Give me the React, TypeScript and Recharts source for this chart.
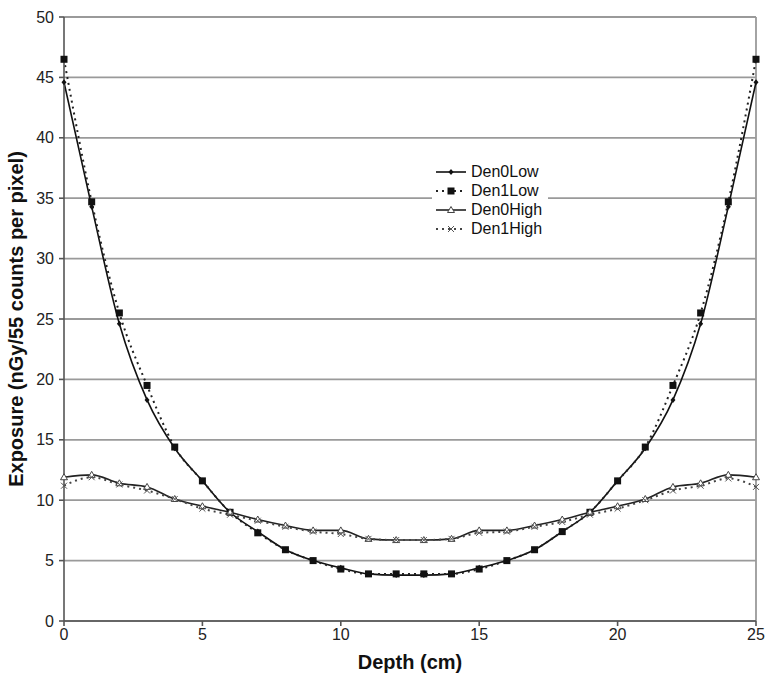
import {
  LineChart,
  Line,
  XAxis,
  YAxis,
  CartesianGrid,
  ReferenceLine,
} from "recharts";

const depths = [
  0, 1, 2, 3, 4, 5, 6, 7, 8, 9, 10, 11, 12, 13, 14, 15, 16, 17, 18, 19, 20, 21,
  22, 23, 24, 25,
];
const den0Low = [
  44.6, 34.3, 24.6, 18.3, 14.3, 11.6, 9.0, 7.4, 5.9, 5.0, 4.4, 3.9, 3.8, 3.8,
  3.9, 4.4, 5.0, 5.9, 7.4, 9.0, 11.6, 14.3, 18.3, 24.6, 34.3, 44.6,
];
const den1Low = [
  46.5, 34.7, 25.5, 19.5, 14.4, 11.6, 9.0, 7.3, 5.9, 5.0, 4.3, 3.9, 3.9, 3.9,
  3.9, 4.3, 5.0, 5.9, 7.4, 9.0, 11.6, 14.4, 19.5, 25.5, 34.7, 46.5,
];
const den0High = [
  11.9, 12.1, 11.4, 11.1, 10.1, 9.5, 9.0, 8.4, 7.9, 7.5, 7.5, 6.8, 6.7, 6.7,
  6.8, 7.5, 7.5, 7.9, 8.4, 9.0, 9.5, 10.1, 11.1, 11.4, 12.1, 11.9,
];
const den1High = [
  11.2, 11.9, 11.3, 10.8, 10.1, 9.3, 8.8, 8.3, 7.8, 7.4, 7.2, 6.8, 6.7, 6.7,
  6.8, 7.3, 7.4, 7.8, 8.2, 8.8, 9.3, 10.0, 10.8, 11.2, 11.8, 11.1,
];
const xTicks = [0, 5, 10, 15, 20, 25];
const yTicks = [0, 5, 10, 15, 20, 25, 30, 35, 40, 45, 50];

const data = depths.map((d, i) => ({
  depth: d,
  den0Low: den0Low[i],
  den1Low: den1Low[i],
  den0High: den0High[i],
  den1High: den1High[i],
}));

const FONT = "Liberation Sans, Arial, sans-serif";

type MarkKind = "diamond" | "square" | "triangle" | "cross";

function Mark({ kind, cx, cy }: { kind: MarkKind; cx: number; cy: number }) {
  if (cx == null || cy == null) return null;
  switch (kind) {
    case "diamond":
      return (
        <path
          d={`M${cx},${cy - 3}L${cx + 2.5},${cy}L${cx},${cy + 3}L${cx - 2.5},${cy}Z`}
          fill="#111"
        />
      );
    case "square":
      return <rect x={cx - 3.5} y={cy - 3.5} width={7} height={7} fill="#111" />;
    case "triangle":
      return (
        <path
          d={`M${cx},${cy - 3.5}L${cx + 3.5},${cy + 2.5}L${cx - 3.5},${cy + 2.5}Z`}
          fill="#fff"
          stroke="#444"
          strokeWidth={1}
        />
      );
    default:
      return (
        <path
          d={`M${cx - 3},${cy - 3}L${cx + 3},${cy + 3}M${cx + 3},${cy - 3}L${cx - 3},${cy + 3}`}
          stroke="#555"
          strokeWidth={1}
        />
      );
  }
}

const series: {
  key: string;
  label: string;
  kind: MarkKind;
  dash?: string;
  color: string;
}[] = [
  { key: "den0Low", label: "Den0Low", kind: "diamond", color: "#111" },
  { key: "den1Low", label: "Den1Low", kind: "square", dash: "2 4", color: "#222" },
  { key: "den0High", label: "Den0High", kind: "triangle", color: "#222" },
  { key: "den1High", label: "Den1High", kind: "cross", dash: "2 4", color: "#444" },
];

// legend sits over the plot, white box hiding the gridline behind it
function LegendBox() {
  return (
    <div
      style={{
        position: "absolute",
        left: 432,
        top: 160,
        background: "#fff",
        padding: "2px 6px 2px 2px",
        fontFamily: FONT,
        fontSize: 16,
        lineHeight: "19px",
        color: "#111",
      }}
    >
      {series.map((s) => (
        <div key={s.key} style={{ display: "flex", alignItems: "center" }}>
          <svg width={34} height={14}>
            <line
              x1={2}
              y1={7}
              x2={32}
              y2={7}
              stroke={s.color}
              strokeWidth={s.dash ? 2 : 1.6}
              strokeDasharray={s.dash}
            />
            <Mark kind={s.kind} cx={17} cy={7} />
          </svg>
          <span style={{ marginLeft: 3 }}>{s.label}</span>
        </div>
      ))}
    </div>
  );
}

export default function App() {
  return (
    <div
      style={{
        position: "absolute",
        left: 0,
        top: 0,
        width: 767,
        height: 675,
        background: "#fff",
      }}
    >
      <LineChart
        width={767}
        height={675}
        data={data}
        margin={{ top: 17, right: 11, left: 0, bottom: 4 }}
        style={{ fontFamily: FONT }}
      >
        <CartesianGrid
          vertical={false}
          stroke="#9a9a9a"
          strokeWidth={1.8}
          horizontalValues={yTicks}
        />
        <ReferenceLine x={25} stroke="#9a9a9a" strokeWidth={1.8} />
        <XAxis
          dataKey="depth"
          type="number"
          domain={[0, 25]}
          ticks={xTicks}
          interval={0}
          tickSize={5}
          tickMargin={3}
          stroke="#555"
          strokeWidth={1.6}
          tick={{ fontSize: 16, fill: "#222" }}
          height={50}
          label={{
            value: "Depth (cm)",
            position: "insideBottom",
            offset: 2,
            style: { fontSize: 20, fontWeight: "bold", fill: "#111" },
          }}
        />
        <YAxis
          type="number"
          domain={[0, 50]}
          ticks={yTicks}
          interval={0}
          tickSize={5}
          tickMargin={5}
          stroke="#555"
          strokeWidth={1.6}
          width={64}
          tick={{ fontSize: 16, fill: "#222" }}
          label={{
            value: "Exposure (nGy/55 counts per pixel)",
            angle: -90,
            position: "insideLeft",
            offset: 16,
            style: {
              fontSize: 20,
              fontWeight: "bold",
              fill: "#111",
              textAnchor: "middle",
            },
          }}
        />
        {series.map((s) => (
          <Line
            key={s.key}
            type="monotone"
            dataKey={s.key}
            name={s.label}
            stroke={s.color}
            strokeWidth={s.dash ? 2 : 1.6}
            strokeDasharray={s.dash}
            dot={(p: any) => (
              <Mark key={`${s.key}-${p.index}`} kind={s.kind} cx={p.cx} cy={p.cy} />
            )}
            activeDot={false}
            isAnimationActive={false}
          />
        ))}
      </LineChart>
      <LegendBox />
    </div>
  );
}
